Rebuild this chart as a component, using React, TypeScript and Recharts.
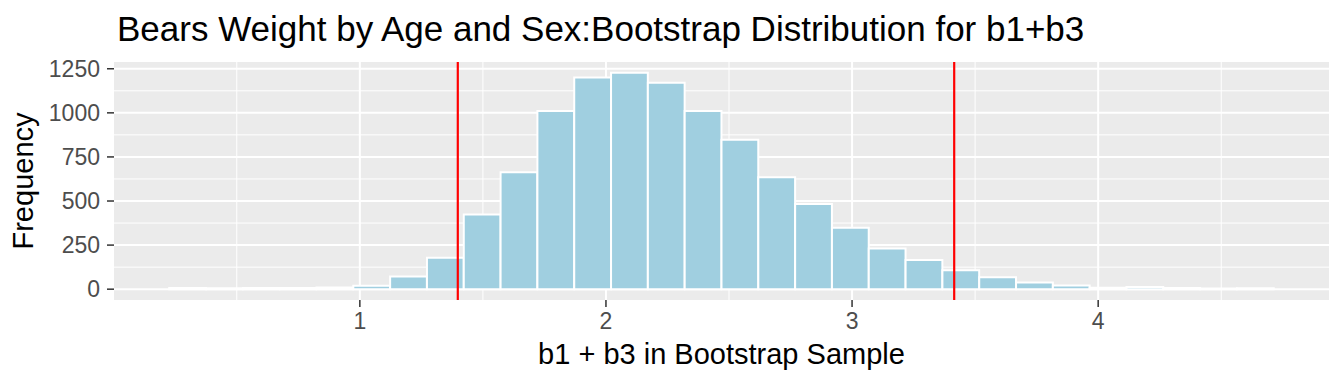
import React from 'react';
import { ComposedChart, Bar, XAxis, YAxis, CartesianGrid, ReferenceLine } from 'recharts';

// ---- data ----
const binStart = 0.2255;
const binWidth = 0.1496;
const binCounts = [
  6, 5, 7, 6, 9, 20, 72, 178, 424, 663,
  1011, 1201, 1227, 1170, 1011, 847, 635, 483, 349, 231,
  165, 108, 67, 38, 21, 8, 12, 6, 4, 5,
];
const xTicks = [1, 2, 3, 4];
const xMinorTicks = [0.5, 1.5, 2.5, 3.5, 4.5];
const yTicks = [0, 250, 500, 750, 1000, 1250];
const yMinorTicks = [125, 375, 625, 875, 1125];
const ciBounds = [1.398, 3.415];

const titleText = 'Bears Weight by Age and Sex:Bootstrap Distribution for b1+b3';
const xTitle = 'b1 + b3 in Bootstrap Sample';
const yTitle = 'Frequency';

// ---- layout / style ----
const W = 1344;
const H = 384;
const margin = { top: 62, right: 15, left: 0, bottom: 0 };
const yAxisWidth = 114;
const xAxisHeight = 84;
const FONT = '"Liberation Sans", Arial, Helvetica, sans-serif';
const PANEL_BG = '#EBEBEB';
const BAR_FILL = '#A0CFE0';

const data = binCounts.map((c, i) => ({ mid: binStart + (i + 0.5) * binWidth, count: c }));
const nBins = binCounts.length;
const xDomain: [number, number] = [binStart - 0.05 * nBins * binWidth, binStart + nBins * binWidth + 0.05 * nBins * binWidth];
const yMax = Math.max(...binCounts);
const yDomain: [number, number] = [-0.05 * yMax, 1.05 * yMax];

const plotWidth = W - margin.left - margin.right - yAxisWidth;
const barPx = (binWidth / (xDomain[1] - xDomain[0])) * plotWidth * 0.999;

const tickStyle = { fill: '#4D4D4D', fontSize: 23, fontFamily: FONT };

export default function App() {
  const plotLeft = margin.left + yAxisWidth;
  const plotCenterX = plotLeft + plotWidth / 2;
  const plotTop = margin.top;
  const plotBottom = H - margin.bottom - xAxisHeight;
  const plotCenterY = (plotTop + plotBottom) / 2;
  return (
    <div style={{ position: 'absolute', left: 0, top: 0, width: W, height: H, background: '#fff' }}>
      <ComposedChart width={W} height={H} data={data} margin={margin} barCategoryGap={0} barGap={0}>
        <CartesianGrid
          fill={PANEL_BG}
          stroke="#FFFFFF"
          strokeWidth={1}
          horizontalValues={yMinorTicks}
          verticalValues={xMinorTicks}
        />
        <CartesianGrid
          stroke="#FFFFFF"
          strokeWidth={2}
          horizontalValues={yTicks}
          verticalValues={xTicks}
        />
        <XAxis
          type="number"
          dataKey="mid"
          domain={xDomain}
          allowDataOverflow
          ticks={xTicks}
          tick={tickStyle}
          tickLine={{ stroke: '#333333', strokeWidth: 1.5 }}
          tickSize={7}
          tickMargin={6}
          axisLine={false}
          height={xAxisHeight}
          interval={0}
        />
        <YAxis
          type="number"
          domain={yDomain}
          allowDataOverflow
          ticks={yTicks}
          tick={tickStyle}
          tickLine={{ stroke: '#333333', strokeWidth: 1.5 }}
          tickSize={7}
          tickMargin={7}
          axisLine={false}
          width={yAxisWidth}
          interval={0}
        />
        <Bar
          dataKey="count"
          fill={BAR_FILL}
          stroke="#FFFFFF"
          strokeWidth={2}
          barSize={barPx}
          isAnimationActive={false}
        />
        {ciBounds.map((v) => (
          <ReferenceLine key={v} x={v} stroke="#FF0000" strokeWidth={2.2} />
        ))}
      </ComposedChart>
      <svg width={W} height={H} style={{ position: 'absolute', left: 0, top: 0, pointerEvents: 'none' }}>
        <text x={plotLeft + 3} y={41} fontSize={35} fontFamily={FONT} fill="#000">
          {titleText}
        </text>
        <text x={plotCenterX} y={364} fontSize={29} fontFamily={FONT} fill="#000" textAnchor="middle">
          {xTitle}
        </text>
        <text
          x={33}
          y={plotCenterY}
          fontSize={29}
          fontFamily={FONT}
          fill="#000"
          textAnchor="middle"
          transform={`rotate(-90 33 ${plotCenterY})`}
        >
          {yTitle}
        </text>
      </svg>
    </div>
  );
}
